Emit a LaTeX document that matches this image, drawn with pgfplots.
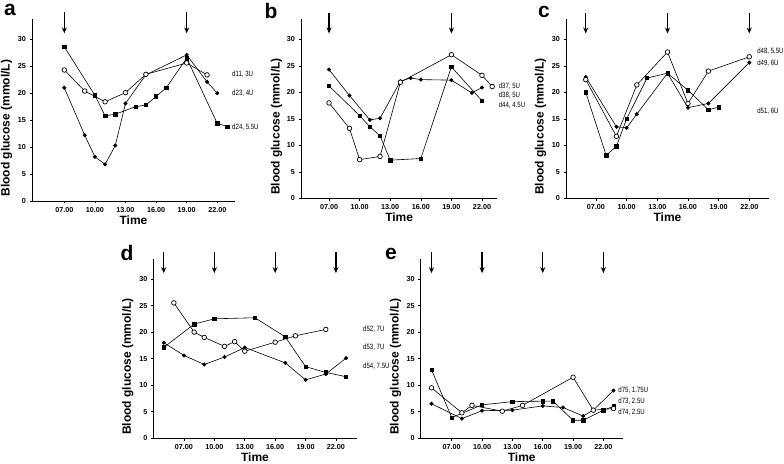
\documentclass[border=0pt]{standalone}
\usepackage{fontspec}
\setmainfont{Liberation Sans}
\newfontfamily\narrow[FakeStretch=0.8]{Liberation Sans}
\usepackage{pgfplots}
\pgfplotsset{compat=1.18}
\usetikzlibrary{arrows.meta}
\tikzset{
  lab/.style={anchor=west, inner sep=0pt, font=\narrow\fontsize{7.6}{8}\selectfont},
  arr/.style={line width=1.3pt, -{Stealth[length=6pt, width=5pt]}},
  let/.style={inner sep=0pt, font=\bfseries\fontsize{21}{23}\selectfont},
}
\pgfplotsset{
  panel/.style={
    scale only axis, anchor=south west,
    axis x line=bottom, axis y line=left,
    axis line style={-, line width=0.8pt},
    ymin=0, ymax=33.8,
    ytick={0,5,10,15,20,25,30},
    xtick={7,10,13,16,19,22},
    xticklabels={07.00,10.00,13.00,16.00,19.00,22.00},
    tick align=outside, major tick length=2.5pt,
    tick style={line width=0.6pt, black},
    ticklabel style={font=\bfseries\fontsize{7.2}{8}\selectfont},
    /pgf/number format/assume math mode=true,
    xlabel={Time}, ylabel={Blood glucose (mmol/L)},
    label style={font=\bfseries\fontsize{12}{14}\selectfont},
    xlabel style={at={(axis description cs:0.5,-0.106)}, anchor=center},
    ylabel style={at={(axis description cs:-0.125,0.4)}, anchor=center},
    clip=false,
    every axis plot/.append style={black, line width=0.6pt},
  },
  fc/.style={mark=*, mark size=1.7pt, mark options={solid, fill=black}},
  oc/.style={mark=*, mark size=2.3pt, mark options={solid, fill=white, draw=black, line width=0.7pt}},
  sq/.style={mark=square*, mark size=1.7pt, mark options={solid, fill=black}},
}
\begin{document}
\begin{tikzpicture}
\path[use as bounding box] (0,0) rectangle (784pt,463pt);
\node[let] at (10pt,453pt) {a};
\node[let] at (271pt,452pt) {b};
\node[let] at (544pt,451pt) {c};
\node[let] at (127pt,210pt) {d};
\node[let] at (391pt,209pt) {e};

% ---------- a ----------
\begin{axis}[panel, at={(32pt,262pt)}, width=203pt, height=182.2pt, xmin=3.83, xmax=23.74]
\addplot[sq] coordinates {(7,28.6) (10,19.6) (11,15.8) (12,16.1) (14,17.5) (15,17.8) (16,19.4) (17,21.0) (19,26.5) (22,14.4) (23,13.8)};
\addplot[fc] coordinates {(7,21.0) (9,12.2) (10,8.2) (11,6.8) (12,10.3) (13,18.1) (15,23.4) (19,27.1) (21,22.1) (22,20.0)};
\addplot[oc] coordinates {(7,24.3) (9,20.4) (11,18.4) (13,20.1) (15,23.5) (19,25.6) (21,23.4)};
\draw[arr] (axis cs:7,35) -- (axis cs:7,31.1);
\draw[arr] (axis cs:19,35) -- (axis cs:19,31.1);
\node[lab] at (axis cs:23.45,23.6) {d11, 3U};
\node[lab] at (axis cs:23.45,20.0) {d23, 4U};
\node[lab] at (axis cs:23.45,13.7) {d24, 5.5U};
\end{axis}

% ---------- b ----------
\begin{axis}[panel, at={(301pt,264.7pt)}, width=196.3pt, height=179.1pt, xmin=4.25, xmax=23.5]
\addplot[sq] coordinates {(7,21.2) (10,15.6) (11,13.5) (12,11.8) (13,7.2) (16,7.5) (19,24.8) (22,18.4)};
\addplot[fc] coordinates {(7,24.3) (9,19.4) (11,14.8) (12,15.1) (14,22.1) (15,22.7) (16,22.4) (19,22.3) (21,19.9) (22,20.9)};
\addplot[oc] coordinates {(7,18.0) (9,13.2) (10,7.3) (12,7.9) (14,21.9) (19,27.1) (22,23.2) (23,21.1)};
\draw[arr] (axis cs:7,35) -- (axis cs:7,31.1);
\draw[arr] (axis cs:19,35) -- (axis cs:19,31.1);
\node[lab] at (axis cs:23.63,21.2) {d37, 5U};
\node[lab] at (axis cs:23.63,19.4) {d38, 5U};
\node[lab] at (axis cs:23.63,17.5) {d44, 4.5U};
\end{axis}

% ---------- c ----------
\begin{axis}[panel, at={(566pt,264.7pt)}, width=203pt, height=179.1pt, xmin=4.07, xmax=23.93]
\addplot[sq] coordinates {(6,20.0) (8,8.1) (9,9.8) (10,15.0) (12,22.7) (14,23.6) (16,20.4) (18,16.7) (19,17.2)};
\addplot[fc] coordinates {(6,22.9) (9,13.5) (10,13.3) (11,15.9) (14,23.6) (16,17.1) (18,17.9) (22,25.6)};
\addplot[oc] coordinates {(6,22.4) (9,11.7) (11,21.4) (14,27.6) (16,17.9) (18,24.0) (22,26.7)};
\draw[arr] (axis cs:6,35) -- (axis cs:6,31.1);
\draw[arr] (axis cs:14,35) -- (axis cs:14,31.1);
\draw[arr] (axis cs:22,35) -- (axis cs:22,31.1);
\node[lab] at (axis cs:22.76,27.7) {d48, 5.5U};
\node[lab] at (axis cs:22.76,25.5) {d49, 6U};
\node[lab] at (axis cs:22.76,16.5) {d51, 6U};
\end{axis}

% ---------- d ----------
\begin{axis}[panel, at={(153.3pt,24.7pt)}, width=203.4pt, height=179.5pt, xmin=3.97, xmax=24.05]
\addplot[sq] coordinates {(5,17.1) (8,21.5) (10,22.5) (14,22.7) (17,19.1) (19,13.5) (21,12.4) (23,11.6)};
\addplot[fc] coordinates {(5,18.0) (7,15.6) (9,13.9) (11,15.3) (13,17.1) (17,14.2) (19,11.0) (21,12.1) (23,15.1)};
\addplot[oc] coordinates {(6,25.5) (8,20.0) (9,19.0) (11,17.3) (12,18.2) (13,16.4) (16,18.1) (18,19.3) (21,20.5)};
\draw[arr] (axis cs:5,35) -- (axis cs:5,31.1);
\draw[arr] (axis cs:10,35) -- (axis cs:10,31.1);
\draw[arr] (axis cs:16,35) -- (axis cs:16,31.1);
\draw[arr] (axis cs:22,35) -- (axis cs:22,31.1);
\node[lab] at (axis cs:24.67,20.5) {d52, 7U};
\node[lab] at (axis cs:24.67,17.1) {d53, 7U};
\node[lab] at (axis cs:24.67,13.5) {d54, 7.5U};
\end{axis}

% ---------- e ----------
\begin{axis}[panel, at={(420.7pt,24.7pt)}, width=202pt, height=179.5pt, xmin=3.93, xmax=23.91]
\addplot[sq] coordinates {(5,12.9) (7,3.9) (10,6.3) (13,6.9) (16,7.0) (17,7.0) (19,3.4) (20,3.4) (22,5.3) (23,6.0)};
\addplot[fc] coordinates {(5,6.5) (8,3.7) (10,5.2) (13,5.3) (16,6.1) (18,5.8) (20,4.2) (21,5.3) (23,9.0)};
\addplot[oc] coordinates {(5,9.5) (8,4.8) (9,6.2) (12,5.1) (14,6.2) (19,11.5) (21,5.3) (23,5.6)};
\draw[arr] (axis cs:5,35) -- (axis cs:5,31.1);
\draw[arr] (axis cs:10,35) -- (axis cs:10,31.1);
\draw[arr] (axis cs:16,35) -- (axis cs:16,31.1);
\draw[arr] (axis cs:22,35) -- (axis cs:22,31.1);
\node[lab] at (axis cs:23.47,9.0) {d75, 1.75U};
\node[lab] at (axis cs:23.47,6.9) {d73, 2.5U};
\node[lab] at (axis cs:23.47,4.9) {d74, 2.5U};
\end{axis}
\end{tikzpicture}
\end{document}
